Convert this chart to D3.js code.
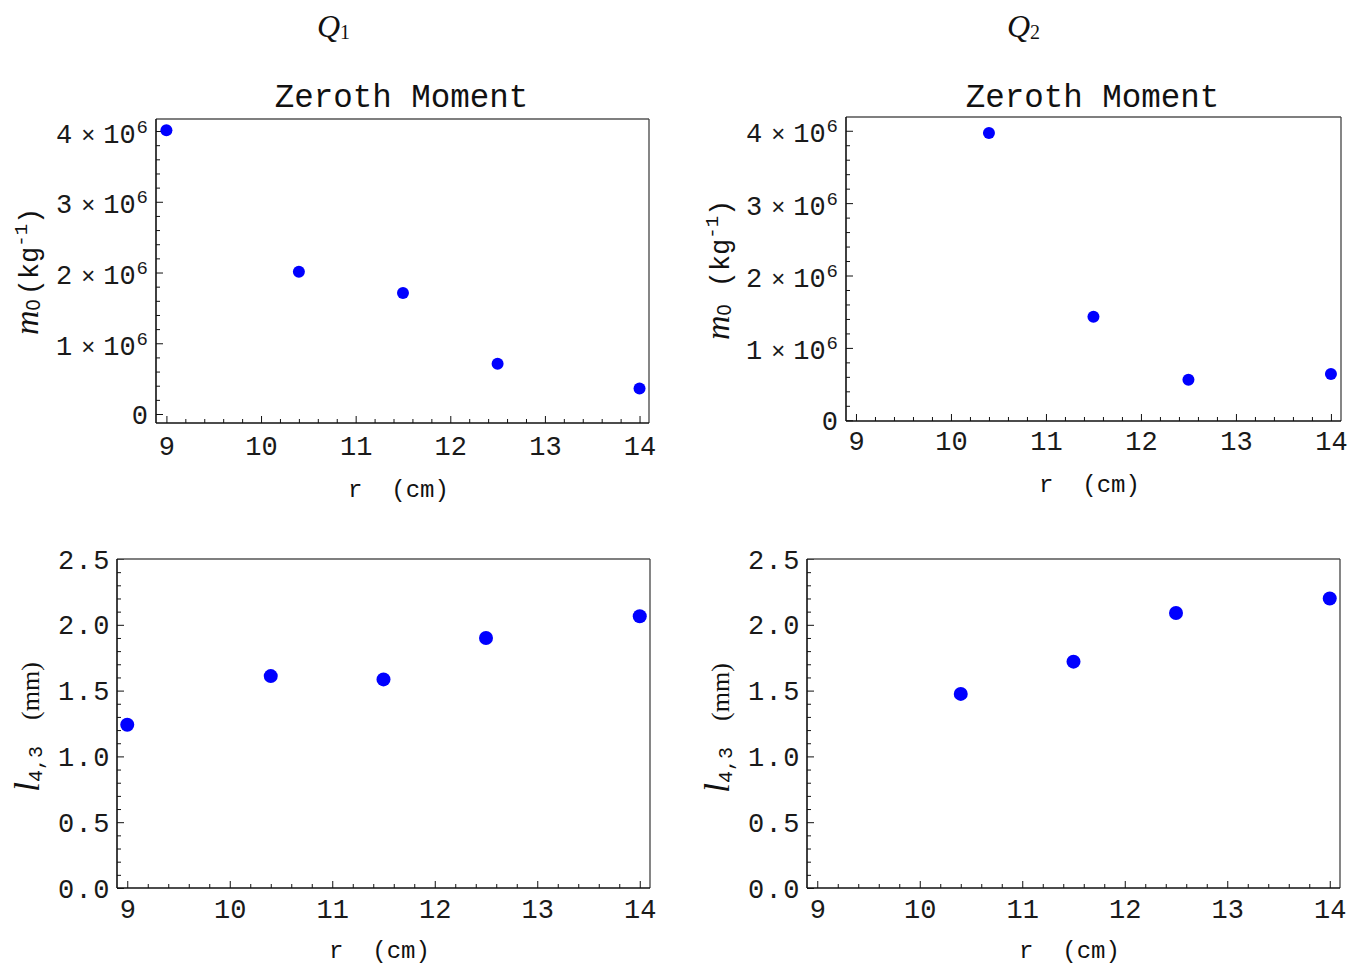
<!DOCTYPE html>
<html>
<head>
<meta charset="utf-8">
<script src="https://cdn.jsdelivr.net/npm/d3@7"></script>
<style>
  body { margin: 0; background: #fff; }
  svg { display: block; }
  .tick text { fill: #1a1a1a; }
</style>
</head>
<body>
<div id="chart-area"></div>
<script>
// data
const q1Radius = [9, 10.4, 11.5, 12.5, 14]
const q2Radius = [10.4, 11.5, 12.5, 14]
const q1Moment = [4.01e6, 2.01e6, 1.71e6, 0.71e6, 0.36e6]
const q2Moment = [3.97e6, 1.43e6, 0.56e6, 0.64e6]
const q1Size = [1.24, 1.61, 1.585, 1.90, 2.065]
const q2Size = [1.475, 1.72, 2.09, 2.20]

const xTicks = [9, 10, 11, 12, 13, 14]
const momentTicks = [0, 1e6, 2e6, 3e6, 4e6]
const sizeTicks = [0, 0.5, 1.0, 1.5, 2.0, 2.5]
const columnHeads = ["1", "2"]

const W = 1360, H = 969
const MONO = "'Liberation Mono', 'Courier New', monospace"
const SERIF = "'Liberation Serif', 'Times New Roman', serif"
const SANS = "'Liberation Sans', Arial, sans-serif"

const svg = d3.select("#chart-area").append("svg")
  .attr("width", W)
  .attr("height", H)

// panel layout (pixels) and axis ranges
const panels = [
  { left: 156, right: 649, top: 119, bottom: 423, xd: [8.89, 14.10], yd: [-0.127e6, 4.17e6],
    xs: q1Radius, ys: q1Moment, yTicks: momentTicks, minorY: 0.2e6, r: 6, kind: "moment",
    xLabOff: 32, xTitleY: 497, yTitleX: 38, yTitleStart: 335, gap: 4, title: true },
  { left: 846, right: 1341, top: 117, bottom: 421, xd: [8.895, 14.106], yd: [-0.01e6, 4.19e6],
    xs: q2Radius, ys: q2Moment, yTicks: momentTicks, minorY: 0.2e6, r: 6, kind: "moment",
    xLabOff: 29, xTitleY: 492, yTitleX: 729, yTitleStart: 340, gap: 17, title: true },
  { left: 117, right: 650, top: 559, bottom: 888, xd: [8.90, 14.10], yd: [0, 2.5],
    xs: q1Radius, ys: q1Size, yTicks: sizeTicks, minorY: 0.1, r: 7, kind: "size",
    xLabOff: 30, xTitleY: 958, yTitleX: 39, yTitleStart: 792, gap: 26, title: false },
  { left: 807, right: 1340, top: 559, bottom: 888, xd: [8.90, 14.10], yd: [0, 2.5],
    xs: q2Radius, ys: q2Size, yTicks: sizeTicks, minorY: 0.1, r: 7, kind: "size",
    xLabOff: 30, xTitleY: 958, yTitleX: 729, yTitleStart: 793, gap: 26, title: false }
]

// Q1 / Q2 column heads
columnHeads.forEach((s, i) => {
  const t = svg.append("text")
    .attr("x", i === 0 ? 317 : 1007)
    .attr("y", 37)
    .attr("font-family", SERIF)
    .attr("fill", "#111")
  t.append("tspan").attr("font-style", "italic").attr("font-size", 32).text("Q")
  t.append("tspan").attr("font-size", 20).attr("dy", 2).text(s)
})

function range(a, b, step) {
  const out = []
  for (let v = a; v <= b + step * 1e-6; v += step) out.push(+v.toFixed(6))
  return out
}

panels.forEach(p => {
  const x = d3.scaleLinear().domain(p.xd).range([p.left, p.right])
  const y = d3.scaleLinear().domain(p.yd).range([p.bottom, p.top])
  const g = svg.append("g")

  // minor ticks
  const minorX = range(9, 14, 0.2).filter(v => !xTicks.includes(v))
  const minorYv = range(0, p.yTicks[p.yTicks.length - 1], p.minorY)
    .filter(v => v >= p.yd[0] && v <= p.yd[1])
    .filter(v => !p.yTicks.some(t => Math.abs(t - v) < p.minorY * 1e-3))

  g.append("g")
    .attr("transform", `translate(0, ${p.bottom})`)
    .call(d3.axisBottom(x).tickValues(minorX).tickSize(-4).tickFormat(""))
    .call(a => a.select(".domain").remove())
    .selectAll("line").attr("stroke", "#111")

  g.append("g")
    .attr("transform", `translate(${p.left}, 0)`)
    .call(d3.axisLeft(y).tickValues(minorYv).tickSize(-4).tickFormat(""))
    .call(a => a.select(".domain").remove())
    .selectAll("line").attr("stroke", "#111")

  // major x axis
  const xa = g.append("g")
    .attr("transform", `translate(0, ${p.bottom})`)
    .call(d3.axisBottom(x).tickValues(xTicks).tickSize(-7).tickPadding(0).tickFormat(d3.format("d")))
  xa.select(".domain").remove()
  xa.selectAll("line").attr("stroke", "#111")
  xa.selectAll("text")
    .attr("y", p.xLabOff)
    .attr("dy", null)
    .attr("font-family", MONO)
    .attr("font-size", 27)

  // major y axis
  const ya = g.append("g")
    .attr("transform", `translate(${p.left}, 0)`)
    .call(d3.axisLeft(y).tickValues(p.yTicks).tickSize(-7).tickPadding(8))
  ya.select(".domain").remove()
  ya.selectAll("line").attr("stroke", "#111")
  ya.selectAll("text")
    .attr("dy", null)
    .attr("font-family", MONO)
    .attr("font-size", 27)
    .each(function (d) {
      const t = d3.select(this).text("")
      if (p.kind === "moment") {
        if (d === 0) {
          t.attr("y", 9).text("0")
        } else {
          t.attr("y", 11)
          t.append("tspan").text(d / 1e6)
          t.append("tspan").attr("font-family", SANS).attr("font-size", 24).attr("dx", 9).text("×")
          t.append("tspan").attr("dx", 8).text("10")
          t.append("tspan").attr("font-size", 19).attr("dx", 1).attr("dy", -10).text("6")
        }
      } else {
        t.attr("y", 9).attr("letter-spacing", 1.5).attr("dx", 2).text(d3.format(".1f")(d))
      }
    })

  // frame
  g.append("line").attr("x1", p.left).attr("x2", p.right).attr("y1", p.top).attr("y2", p.top)
    .attr("stroke", "#555").attr("stroke-width", 1.3)
  g.append("line").attr("x1", p.right).attr("x2", p.right).attr("y1", p.top).attr("y2", p.bottom)
    .attr("stroke", "#444").attr("stroke-width", 1.3)
  g.append("line").attr("x1", p.left).attr("x2", p.right).attr("y1", p.bottom).attr("y2", p.bottom)
    .attr("stroke", "#111").attr("stroke-width", 1.6)
  g.append("line").attr("x1", p.left).attr("x2", p.left).attr("y1", p.top).attr("y2", p.bottom)
    .attr("stroke", "#111").attr("stroke-width", 1.6)

  // points
  g.selectAll("circle")
    .data(p.xs.map((v, i) => ({ x: v, y: p.ys[i] })))
    .enter().append("circle")
    .attr("cx", d => x(d.x))
    .attr("cy", d => y(d.y))
    .attr("r", p.r)
    .attr("fill", "#0000ff")

  // title
  if (p.title) {
    g.append("text")
      .attr("x", (p.left + p.right) / 2 - 1)
      .attr("y", 107)
      .attr("text-anchor", "middle")
      .attr("font-family", MONO)
      .attr("font-size", 32.5)
      .attr("fill", "#111")
      .text("Zeroth Moment")
  }

  // x title
  g.append("text")
    .attr("x", (p.left + p.right) / 2 - 4)
    .attr("y", p.xTitleY)
    .attr("text-anchor", "middle")
    .attr("font-family", MONO)
    .attr("font-size", 24)
    .attr("fill", "#111")
    .style("white-space", "pre")
    .text("r  (cm)")

  // y title
  const yt = g.append("text")
    .attr("transform", `translate(${p.yTitleX}, ${p.yTitleStart}) rotate(-90)`)
    .attr("fill", "#111")
  if (p.kind === "moment") {
    yt.append("tspan").attr("font-family", SERIF).attr("font-style", "italic").attr("font-size", 34).text("m")
    yt.append("tspan").attr("font-family", SANS).attr("font-size", 20).attr("dy", 2).text("0")
    yt.append("tspan").attr("font-family", MONO).attr("font-size", 27).attr("dx", p.gap).attr("dy", -2).text("(kg")
    yt.append("tspan").attr("font-family", MONO).attr("font-size", 19).attr("dy", -11).text("-1")
    yt.append("tspan").attr("font-family", MONO).attr("font-size", 27).attr("dy", 11).text(")")
  } else {
    yt.append("tspan").attr("font-family", SERIF).attr("font-style", "italic").attr("font-size", 36).text("l")
    yt.append("tspan").attr("font-family", MONO).attr("font-size", 20).attr("dy", 3).text("4,3")
    yt.append("tspan").attr("font-family", SERIF).attr("font-size", 26).attr("dx", p.gap).attr("dy", -3).text("(mm)")
  }
})
</script>
</body>
</html>
